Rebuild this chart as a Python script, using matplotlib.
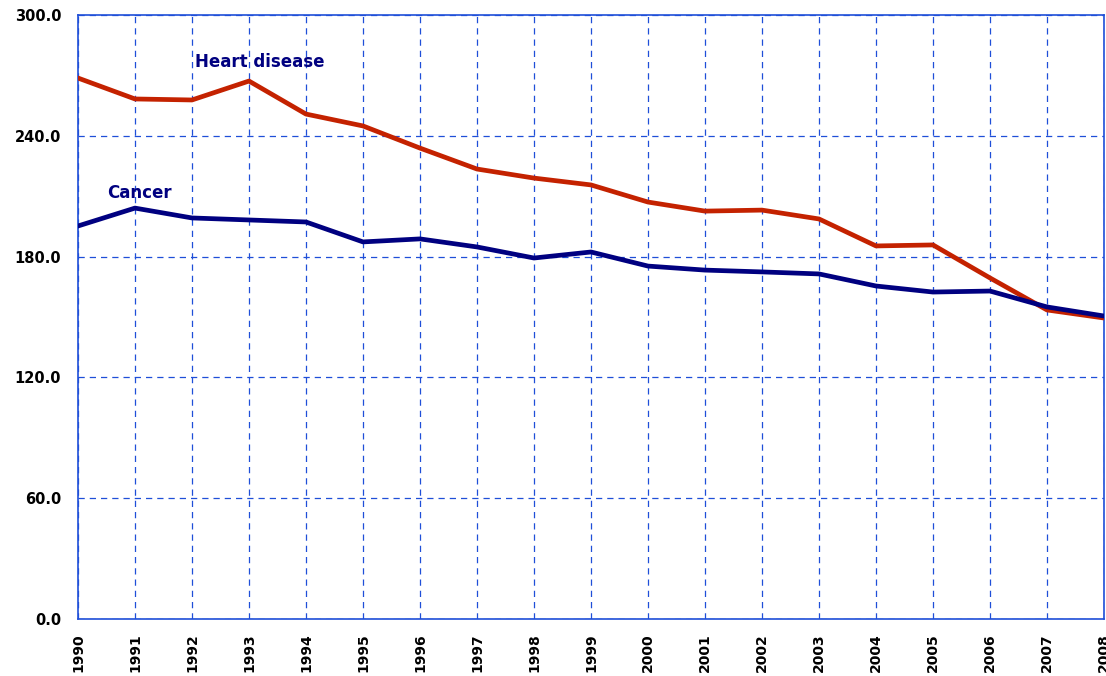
import matplotlib
matplotlib.use("Agg")
import matplotlib.pyplot as plt

years = list(range(1990, 2009))
heart_disease = [268.7, 258.3, 257.8, 267.2, 250.8, 244.9, 233.9, 223.5, 219.0, 215.6,
                 207.1, 202.6, 203.1, 198.7, 185.3, 185.8, 169.4, 153.5, 149.5]
cancer = [195.2, 204.1, 199.2, 198.2, 197.2, 187.3, 188.8, 184.8, 179.3, 182.3,
          175.3, 173.3, 172.4, 171.4, 165.4, 162.4, 162.9, 155.0, 150.5]
y_ticks = [0, 60, 120, 180, 240, 300]

grid_blue = '#1f4fd8'

fig = plt.figure(figsize=(11.06, 6.76), dpi=100)
ax = fig.add_axes([0.0705, 0.0843, 0.9277, 0.8935])

ax.plot(years, heart_disease, color='#c42200', lw=3.4, solid_joinstyle='round', zorder=3)
ax.plot(years, cancer, color='#000080', lw=3.4, solid_joinstyle='round', zorder=3)

ax.set_xlim(1990, 2008)
ax.set_ylim(0, 300)
ax.set_xticks(years)
ax.set_xticklabels([str(y) for y in years], rotation=90, fontweight='bold', fontsize=10)
ax.set_yticks(y_ticks)
ax.set_yticklabels(['%.1f' % v for v in y_ticks], fontweight='bold', fontsize=10.5)
ax.tick_params(length=0, pad=12)
ax.tick_params(axis='x', pad=10)

ax.grid(True, color=grid_blue, linestyle=(0, (5, 4)), lw=0.9)
for s in ax.spines.values():
    s.set_color(grid_blue)
    s.set_linewidth(1.2)

ax.text(1992.05, 276.5, 'Heart disease', color='#000080', fontweight='bold',
        fontsize=12, va='center')
ax.text(1990.52, 211.5, 'Cancer', color='#000080', fontweight='bold',
        fontsize=12, va='center')

fig.savefig('out.png', dpi=100)
